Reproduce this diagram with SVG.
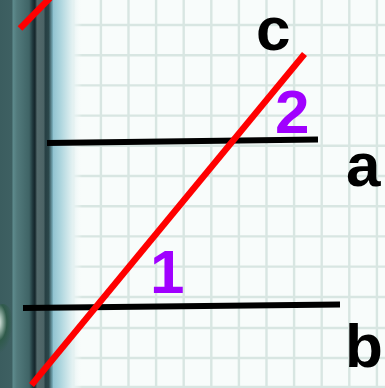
<svg xmlns="http://www.w3.org/2000/svg" width="385" height="388" viewBox="0 0 385 388">
  <defs>
    <linearGradient id="fade" x1="0" y1="0" x2="1" y2="0">
      <stop offset="0" stop-color="#86bccb"/>
      <stop offset="0.3" stop-color="#a9d3dc"/>
      <stop offset="0.7" stop-color="#e3f1f2"/>
      <stop offset="1" stop-color="#f8fcfb" stop-opacity="0"/>
    </linearGradient>
    <linearGradient id="band" x1="0" y1="0" x2="1" y2="0">
      <stop offset="0" stop-color="#3b5d5f"/>
      <stop offset="0.22" stop-color="#3e6062"/>
      <stop offset="0.25" stop-color="#5d8a8c"/>
      <stop offset="0.32" stop-color="#527a7c"/>
      <stop offset="0.55" stop-color="#3f6466"/>
      <stop offset="0.62" stop-color="#1f363b"/>
      <stop offset="0.66" stop-color="#15262b"/>
      <stop offset="0.70" stop-color="#53696b"/>
      <stop offset="0.82" stop-color="#4c6466"/>
      <stop offset="0.86" stop-color="#263f43"/>
      <stop offset="0.92" stop-color="#2b474a"/>
      <stop offset="1" stop-color="#7fb5c3"/>
    </linearGradient>
    <radialGradient id="ring" cx="0.3" cy="0.35" r="0.6">
      <stop offset="0" stop-color="#f4f8f4"/>
      <stop offset="0.25" stop-color="#9fb9ae"/>
      <stop offset="0.6" stop-color="#2f5a4a"/>
      <stop offset="1" stop-color="#2f5a4a" stop-opacity="0"/>
    </radialGradient>
  </defs>
  <style>
    .grid line { stroke: #d8e6e2; stroke-width: 2.4; }
    .parallel { stroke: #000000; stroke-width: 6; stroke-linecap: butt; }
    .transversal { stroke: #ff0000; stroke-width: 6.5; stroke-linecap: butt; }
    .lbl { font-family: "Liberation Sans", Arial, sans-serif; font-weight: bold; font-size: 62px; }
    .name { fill: #000000; }
    .angle { fill: #a000ff; }
  </style>

  <!-- paper -->
  <rect x="0" y="0" width="385" height="388" fill="#f8fcfb"/>
  <g class="grid">
    <line x1="73.3" y1="0" x2="73.3" y2="388"/>
    <line x1="100.9" y1="0" x2="100.9" y2="388"/>
    <line x1="128.5" y1="0" x2="128.5" y2="388"/>
    <line x1="156.1" y1="0" x2="156.1" y2="388"/>
    <line x1="183.7" y1="0" x2="183.7" y2="388"/>
    <line x1="211.3" y1="0" x2="211.3" y2="388"/>
    <line x1="238.9" y1="0" x2="238.9" y2="388"/>
    <line x1="266.5" y1="0" x2="266.5" y2="388"/>
    <line x1="294.1" y1="0" x2="294.1" y2="388"/>
    <line x1="321.7" y1="0" x2="321.7" y2="388"/>
    <line x1="349.3" y1="0" x2="349.3" y2="388"/>
    <line x1="376.9" y1="0" x2="376.9" y2="388"/>
    <line x1="50" y1="25" x2="385" y2="25"/>
    <line x1="50" y1="55.2" x2="385" y2="55.2"/>
    <line x1="50" y1="85.4" x2="385" y2="85.4"/>
    <line x1="50" y1="115.6" x2="385" y2="115.6"/>
    <line x1="50" y1="145.8" x2="385" y2="145.8"/>
    <line x1="50" y1="176" x2="385" y2="176"/>
    <line x1="50" y1="206.2" x2="385" y2="206.2"/>
    <line x1="50" y1="236.4" x2="385" y2="236.4"/>
    <line x1="50" y1="266.6" x2="385" y2="266.6"/>
    <line x1="50" y1="297" x2="385" y2="297"/>
    <line x1="50" y1="328" x2="385" y2="328"/>
    <line x1="50" y1="358" x2="385" y2="358"/>
    <line x1="50" y1="387" x2="385" y2="387"/>
  </g>
  <!-- binder edge -->
  <rect x="50" y="0" width="32" height="388" fill="url(#fade)"/>
  <rect x="0" y="0" width="53" height="388" fill="url(#band)"/>
  <ellipse cx="3" cy="330" rx="12" ry="26" fill="url(#ring)"/>

  <!-- connectors: the lines -->
  <g id="connectors">
    <line id="line-a" class="parallel" x1="47" y1="143" x2="318" y2="139.5"/>
    <line id="line-b" class="parallel" x1="23" y1="308" x2="340" y2="304.5"/>
    <line id="line-c" class="transversal" x1="31.5" y1="385" x2="304.5" y2="54"/>
    <line id="line-c-reflection" class="transversal" x1="20" y1="28.5" x2="50" y2="-2"/>
  </g>

  <g id="label-c"><text class="lbl name" x="256" y="50">c</text></g>
  <g id="label-a"><text class="lbl name" x="346" y="186">a</text></g>
  <g id="label-b"><text class="lbl name" x="345" y="367">b</text></g>
  <g id="angle-2"><text class="lbl angle" x="275" y="133">2</text></g>
  <g id="angle-1"><text class="lbl angle" x="150" y="293">1</text></g>
</svg>
